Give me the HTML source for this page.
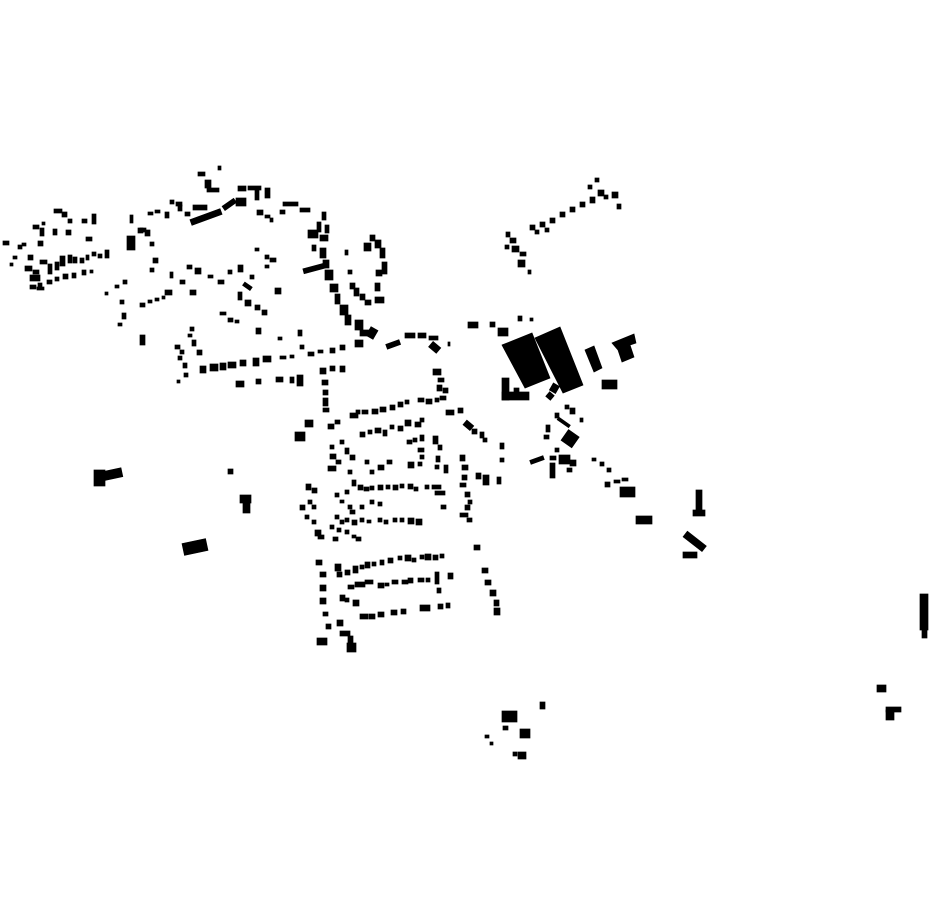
<!DOCTYPE html>
<html><head><meta charset="utf-8"><style>html,body{margin:0;padding:0;background:#fff}svg{display:block}</style></head><body>
<svg width="930" height="924" viewBox="0 0 930 924" xmlns="http://www.w3.org/2000/svg">
<rect width="930" height="924" fill="#fff"/>
<g fill="#000" stroke="#000" stroke-width="0.7" stroke-linejoin="miter">
<!-- NW cluster -->
<rect x="3" y="241" width="6" height="4"/><rect x="18" y="245" width="4" height="4"/><rect x="22" y="243" width="4" height="3"/><rect x="13" y="256" width="4" height="3"/><rect x="10" y="263" width="3" height="3"/><rect x="28" y="255" width="5" height="5"/><rect x="38" y="241" width="5" height="5"/><rect x="40" y="228" width="4" height="8"/><rect x="33" y="225" width="6" height="4"/><rect x="42" y="222" width="3" height="3"/><rect x="54" y="209" width="8" height="4"/><rect x="62" y="212" width="5" height="5"/><rect x="68" y="219" width="4" height="4"/><rect x="82" y="219" width="5" height="4"/><rect x="92" y="214" width="4" height="10"/><rect x="53" y="229" width="4" height="6"/><rect x="66" y="230" width="5" height="5"/><rect x="86" y="237" width="6" height="4"/><rect x="40" y="260" width="7" height="4"/><rect x="25" y="266" width="7" height="5"/><rect x="30" y="275" width="10" height="6"/><rect x="33" y="270" width="6" height="4"/><rect x="48" y="264" width="4" height="10"/><rect x="55" y="262" width="4" height="8"/><rect x="60" y="256" width="5" height="10"/><rect x="68" y="255" width="4" height="8"/><rect x="73" y="257" width="4" height="6"/><rect x="80" y="258" width="4" height="5"/><rect x="86" y="255" width="3" height="5"/><rect x="92" y="252" width="4" height="4"/><rect x="98" y="254" width="4" height="4"/><rect x="105" y="250" width="4" height="8"/><rect x="30" y="285" width="6" height="4"/><rect x="38" y="283" width="4" height="4"/><rect x="47" y="280" width="5" height="4"/><rect x="55" y="277" width="4" height="4"/><rect x="63" y="274" width="5" height="5"/><rect x="72" y="273" width="4" height="5"/><rect x="82" y="270" width="4" height="5"/><rect x="90" y="270" width="3" height="3"/><rect x="37" y="287" width="7" height="3"/>
<!-- north center -->
<rect x="198" y="172" width="7" height="4"/><rect x="205" y="180" width="6" height="8"/><rect x="207" y="188" width="12" height="4"/><rect x="218" y="166" width="3" height="4"/><rect x="238" y="186" width="8" height="5"/><rect x="248" y="186" width="13" height="4"/><rect x="255" y="190" width="4" height="10"/><rect x="265" y="188" width="5" height="10"/><rect x="236" y="198" width="10" height="8"/>
<rect x="190" y="214" width="32" height="6" transform="rotate(-20 206 217)"/><rect x="222" y="202" width="14" height="5" transform="rotate(-35 229 204)"/>
<rect x="193" y="205" width="14" height="5"/><rect x="178" y="205" width="4" height="6"/><rect x="185" y="212" width="5" height="4"/><rect x="170" y="200" width="4" height="4"/><rect x="165" y="212" width="4" height="6"/><rect x="176" y="202" width="6" height="4"/><rect x="130" y="215" width="3" height="8"/><rect x="148" y="212" width="5" height="3"/><rect x="155" y="210" width="5" height="3"/><rect x="140" y="228" width="6" height="4"/><rect x="145" y="230" width="5" height="6"/><rect x="127" y="236" width="8" height="14"/><rect x="150" y="242" width="4" height="4"/><rect x="138" y="228" width="5" height="5"/><rect x="153" y="258" width="5" height="5"/><rect x="150" y="268" width="4" height="4"/>
<rect x="257" y="210" width="6" height="5"/><rect x="265" y="215" width="5" height="3"/><rect x="270" y="218" width="3" height="4"/><rect x="280" y="210" width="5" height="4"/><rect x="283" y="202" width="15" height="4"/><rect x="300" y="208" width="10" height="4"/>
<rect x="322" y="212" width="4" height="8"/><rect x="317" y="222" width="4" height="10"/><rect x="308" y="230" width="10" height="8"/><rect x="325" y="225" width="4" height="8"/><rect x="320" y="235" width="8" height="6"/><rect x="312" y="245" width="4" height="6"/><rect x="320" y="248" width="6" height="10"/><rect x="323" y="260" width="6" height="8"/><rect x="303" y="266" width="22" height="5" transform="rotate(-15 314 268)"/><rect x="325" y="270" width="8" height="10"/><rect x="330" y="284" width="8" height="8"/><rect x="335" y="294" width="5" height="10"/><rect x="340" y="305" width="8" height="10"/><rect x="345" y="315" width="6" height="10"/><rect x="355" y="320" width="8" height="10"/><rect x="360" y="330" width="10" height="6"/><rect x="368" y="328" width="8" height="10" transform="rotate(30 372 333)"/>
<rect x="370" y="235" width="5" height="6"/><rect x="375" y="240" width="6" height="8"/><rect x="380" y="248" width="5" height="10"/><rect x="382" y="262" width="5" height="12"/><rect x="376" y="270" width="6" height="6"/><rect x="364" y="243" width="7" height="8"/><rect x="375" y="283" width="5" height="8"/><rect x="375" y="297" width="9" height="6"/><rect x="365" y="300" width="6" height="5"/><rect x="360" y="294" width="5" height="6"/><rect x="354" y="288" width="5" height="8"/><rect x="350" y="283" width="5" height="6"/><rect x="348" y="270" width="4" height="4"/><rect x="345" y="250" width="3" height="5"/>
<rect x="255" y="248" width="4" height="3"/><rect x="265" y="255" width="4" height="4"/><rect x="270" y="258" width="6" height="4"/><rect x="265" y="265" width="4" height="3"/><rect x="187" y="265" width="5" height="4"/><rect x="195" y="268" width="6" height="6"/><rect x="208" y="275" width="5" height="3"/><rect x="218" y="280" width="6" height="4"/><rect x="228" y="270" width="4" height="4"/><rect x="238" y="265" width="5" height="7"/><rect x="250" y="275" width="4" height="4"/><rect x="243" y="284" width="9" height="4" transform="rotate(35 247 286)"/><rect x="238" y="292" width="4" height="8"/><rect x="245" y="300" width="6" height="6"/><rect x="255" y="305" width="5" height="5"/><rect x="262" y="310" width="5" height="5"/><rect x="275" y="288" width="6" height="6"/><rect x="190" y="290" width="6" height="5"/><rect x="165" y="290" width="7" height="5"/><rect x="170" y="272" width="3" height="6"/><rect x="180" y="280" width="5" height="4"/><rect x="123" y="280" width="4" height="4"/><rect x="115" y="285" width="4" height="3"/><rect x="105" y="292" width="3" height="3"/><rect x="140" y="303" width="5" height="4"/><rect x="148" y="300" width="4" height="3"/><rect x="155" y="298" width="4" height="3"/><rect x="162" y="296" width="3" height="3"/><rect x="120" y="300" width="4" height="4"/><rect x="122" y="313" width="4" height="6"/><rect x="118" y="323" width="4" height="3"/><rect x="140" y="335" width="5" height="10"/><rect x="220" y="312" width="6" height="3"/><rect x="228" y="318" width="5" height="4"/><rect x="235" y="320" width="4" height="3"/><rect x="256" y="328" width="5" height="6"/><rect x="278" y="337" width="4" height="3"/><rect x="298" y="330" width="4" height="6"/><rect x="300" y="345" width="4" height="4"/>
<rect x="200" y="366" width="6" height="7"/><rect x="210" y="364" width="8" height="7"/><rect x="220" y="363" width="6" height="7"/><rect x="228" y="362" width="8" height="6"/><rect x="240" y="360" width="6" height="6"/><rect x="253" y="358" width="6" height="8"/><rect x="263" y="356" width="8" height="6"/><rect x="280" y="356" width="6" height="3"/><rect x="290" y="355" width="4" height="3"/><rect x="308" y="352" width="6" height="4"/><rect x="318" y="350" width="5" height="3"/><rect x="330" y="348" width="5" height="5"/><rect x="340" y="345" width="5" height="5"/><rect x="355" y="340" width="8" height="7"/><rect x="236" y="381" width="8" height="6"/><rect x="256" y="379" width="5" height="5"/><rect x="276" y="377" width="7" height="5"/><rect x="290" y="377" width="4" height="6"/><rect x="297" y="375" width="6" height="11"/><rect x="175" y="345" width="5" height="4"/><rect x="180" y="350" width="4" height="4"/><rect x="178" y="356" width="4" height="4"/><rect x="183" y="363" width="4" height="5"/><rect x="184" y="373" width="4" height="4"/><rect x="177" y="380" width="3" height="3"/><rect x="188" y="334" width="4" height="3"/><rect x="190" y="327" width="4" height="4"/><rect x="192" y="340" width="4" height="6"/><rect x="197" y="350" width="5" height="5"/>
<rect x="386" y="342" width="14" height="5" transform="rotate(-20 393 344)"/><rect x="405" y="333" width="10" height="5"/><rect x="418" y="333" width="8" height="5"/><rect x="429" y="336" width="9" height="4"/><rect x="430" y="344" width="10" height="7" transform="rotate(40 435 347)"/><rect x="448" y="342" width="2" height="4"/>
<!-- central-south -->
<rect x="320" y="368" width="6" height="6"/><rect x="330" y="366" width="5" height="5"/><rect x="340" y="366" width="5" height="6"/><rect x="322" y="380" width="6" height="5"/><rect x="323" y="390" width="5" height="5"/><rect x="323" y="398" width="5" height="8"/><rect x="323" y="408" width="6" height="4"/><rect x="295" y="432" width="10" height="9"/><rect x="305" y="420" width="8" height="7"/><rect x="328" y="424" width="6" height="5"/><rect x="335" y="420" width="5" height="4"/><rect x="350" y="413" width="8" height="5"/><rect x="356" y="410" width="4" height="4"/><rect x="362" y="410" width="6" height="4"/><rect x="372" y="409" width="6" height="5"/><rect x="380" y="407" width="6" height="5"/><rect x="390" y="405" width="5" height="5"/><rect x="398" y="402" width="5" height="5"/><rect x="405" y="400" width="4" height="4"/><rect x="418" y="398" width="6" height="4"/><rect x="426" y="399" width="6" height="5"/><rect x="435" y="398" width="4" height="4"/><rect x="433" y="369" width="8" height="6"/><rect x="438" y="378" width="6" height="4"/><rect x="437" y="385" width="5" height="6"/><rect x="443" y="388" width="5" height="5"/><rect x="440" y="396" width="6" height="4"/><rect x="446" y="410" width="8" height="5"/><rect x="458" y="408" width="5" height="5"/><rect x="464" y="422" width="9" height="6" transform="rotate(40 468 425)"/><rect x="472" y="429" width="5" height="5"/><rect x="480" y="432" width="4" height="6"/><rect x="483" y="438" width="4" height="4"/><rect x="500" y="443" width="4" height="6"/><rect x="500" y="458" width="4" height="4"/><rect x="483" y="475" width="6" height="10"/><rect x="497" y="477" width="4" height="7"/>
<rect x="340" y="440" width="4" height="4"/><rect x="330" y="445" width="4" height="4"/><rect x="330" y="454" width="6" height="5"/><rect x="336" y="460" width="5" height="4"/><rect x="328" y="466" width="8" height="5"/><rect x="345" y="448" width="4" height="6"/><rect x="350" y="455" width="5" height="5"/><rect x="348" y="470" width="4" height="4"/><rect x="360" y="432" width="5" height="5"/><rect x="368" y="430" width="4" height="4"/><rect x="375" y="428" width="6" height="5"/><rect x="383" y="430" width="4" height="6"/><rect x="390" y="425" width="4" height="4"/><rect x="398" y="426" width="5" height="5"/><rect x="405" y="420" width="6" height="6"/><rect x="415" y="422" width="6" height="5"/><rect x="420" y="418" width="4" height="4"/><rect x="407" y="440" width="5" height="4"/><rect x="413" y="438" width="4" height="4"/><rect x="420" y="435" width="4" height="6"/><rect x="418" y="448" width="6" height="4"/><rect x="420" y="455" width="4" height="4"/><rect x="418" y="462" width="4" height="4"/><rect x="408" y="462" width="6" height="6"/><rect x="387" y="460" width="5" height="4"/><rect x="378" y="465" width="6" height="5"/><rect x="365" y="460" width="4" height="4"/><rect x="370" y="470" width="4" height="4"/><rect x="433" y="436" width="5" height="8"/><rect x="438" y="445" width="4" height="5"/><rect x="436" y="456" width="4" height="6"/><rect x="435" y="465" width="4" height="4"/><rect x="444" y="465" width="4" height="8"/><rect x="460" y="455" width="5" height="6"/><rect x="462" y="465" width="6" height="5"/><rect x="462" y="475" width="5" height="5"/><rect x="460" y="483" width="6" height="4"/><rect x="465" y="492" width="5" height="5"/><rect x="468" y="500" width="4" height="4"/><rect x="465" y="505" width="5" height="5"/><rect x="460" y="513" width="8" height="4"/><rect x="467" y="518" width="5" height="4"/><rect x="476" y="473" width="5" height="6"/>
<rect x="335" y="493" width="4" height="4"/><rect x="345" y="490" width="4" height="4"/><rect x="352" y="480" width="4" height="6"/><rect x="358" y="485" width="5" height="5"/><rect x="364" y="487" width="5" height="4"/><rect x="370" y="486" width="4" height="4"/><rect x="378" y="485" width="5" height="5"/><rect x="386" y="485" width="4" height="4"/><rect x="393" y="485" width="5" height="5"/><rect x="400" y="484" width="4" height="4"/><rect x="408" y="484" width="5" height="5"/><rect x="414" y="487" width="4" height="4"/><rect x="425" y="485" width="4" height="4"/><rect x="432" y="485" width="9" height="4"/><rect x="435" y="491" width="10" height="4"/><rect x="441" y="505" width="5" height="4"/><rect x="306" y="484" width="5" height="6"/><rect x="312" y="488" width="5" height="5"/><rect x="300" y="505" width="5" height="5"/><rect x="308" y="500" width="4" height="4"/><rect x="312" y="505" width="4" height="4"/><rect x="305" y="515" width="4" height="4"/><rect x="312" y="520" width="4" height="4"/><rect x="315" y="530" width="6" height="6"/><rect x="335" y="515" width="4" height="4"/><rect x="340" y="520" width="4" height="4"/><rect x="345" y="518" width="4" height="4"/><rect x="352" y="520" width="5" height="5"/><rect x="360" y="518" width="4" height="4"/><rect x="367" y="520" width="4" height="3"/><rect x="378" y="518" width="4" height="4"/><rect x="384" y="520" width="4" height="4"/><rect x="393" y="518" width="4" height="4"/><rect x="400" y="518" width="4" height="4"/><rect x="408" y="518" width="6" height="6"/><rect x="416" y="519" width="6" height="6"/><rect x="330" y="525" width="4" height="4"/><rect x="337" y="528" width="4" height="4"/><rect x="345" y="530" width="4" height="4"/><rect x="352" y="535" width="4" height="3"/><rect x="356" y="537" width="5" height="4"/><rect x="333" y="537" width="5" height="4"/><rect x="318" y="535" width="6" height="4"/><rect x="340" y="500" width="4" height="3"/><rect x="348" y="505" width="4" height="4"/><rect x="360" y="505" width="4" height="4"/><rect x="370" y="500" width="4" height="4"/><rect x="378" y="502" width="4" height="4"/><rect x="350" y="510" width="5" height="4"/>
<!-- south rows -->
<rect x="316" y="560" width="6" height="5"/><rect x="320" y="572" width="6" height="5"/><rect x="320" y="585" width="6" height="6"/><rect x="320" y="598" width="6" height="6"/><rect x="323" y="612" width="5" height="4"/><rect x="335" y="564" width="6" height="7"/><rect x="337" y="572" width="5" height="5"/><rect x="345" y="570" width="5" height="5"/><rect x="353" y="566" width="5" height="7"/><rect x="360" y="565" width="4" height="4"/><rect x="365" y="562" width="5" height="6"/><rect x="372" y="562" width="4" height="4"/><rect x="380" y="560" width="4" height="5"/><rect x="388" y="558" width="5" height="5"/><rect x="398" y="556" width="4" height="4"/><rect x="405" y="555" width="6" height="6"/><rect x="412" y="558" width="4" height="4"/><rect x="420" y="555" width="4" height="4"/><rect x="425" y="554" width="6" height="6"/><rect x="433" y="555" width="5" height="5"/><rect x="440" y="554" width="4" height="4"/><rect x="348" y="585" width="6" height="4"/><rect x="355" y="582" width="10" height="5"/><rect x="365" y="580" width="8" height="4"/><rect x="378" y="583" width="6" height="5"/><rect x="385" y="583" width="4" height="3"/><rect x="392" y="580" width="6" height="4"/><rect x="402" y="580" width="6" height="4"/><rect x="408" y="578" width="5" height="5"/><rect x="418" y="578" width="6" height="4"/><rect x="426" y="578" width="4" height="4"/><rect x="435" y="572" width="4" height="12"/><rect x="437" y="588" width="4" height="5"/><rect x="448" y="573" width="5" height="6"/><rect x="340" y="595" width="5" height="6"/><rect x="345" y="598" width="4" height="4"/><rect x="353" y="600" width="6" height="6"/><rect x="360" y="614" width="8" height="5"/><rect x="369" y="614" width="6" height="5"/><rect x="378" y="612" width="6" height="5"/><rect x="391" y="610" width="6" height="5"/><rect x="401" y="609" width="5" height="5"/><rect x="420" y="605" width="10" height="6"/><rect x="438" y="604" width="5" height="5"/><rect x="446" y="603" width="4" height="5"/><rect x="326" y="624" width="5" height="5"/><rect x="337" y="620" width="6" height="6"/><rect x="317" y="638" width="10" height="7"/><rect x="340" y="631" width="10" height="5"/><rect x="348" y="636" width="5" height="10"/><rect x="347" y="643" width="9" height="9"/><rect x="474" y="545" width="6" height="5"/><rect x="482" y="568" width="6" height="5"/><rect x="485" y="580" width="6" height="5"/><rect x="490" y="590" width="6" height="6"/><rect x="494" y="600" width="5" height="6"/><rect x="494" y="608" width="6" height="7"/>
<!-- NE diagonal -->
<rect x="506" y="232" width="4" height="5"/><rect x="510" y="238" width="6" height="5"/><rect x="512" y="246" width="7" height="6"/><rect x="520" y="252" width="6" height="4"/><rect x="518" y="260" width="7" height="7"/><rect x="528" y="270" width="3" height="4"/><rect x="505" y="245" width="4" height="4"/><rect x="530" y="225" width="5" height="5"/><rect x="540" y="222" width="5" height="5"/><rect x="550" y="218" width="5" height="5"/><rect x="560" y="212" width="5" height="5"/><rect x="570" y="207" width="5" height="5"/><rect x="580" y="202" width="5" height="5"/><rect x="590" y="197" width="5" height="6"/><rect x="598" y="190" width="6" height="6"/><rect x="588" y="185" width="4" height="4"/><rect x="595" y="178" width="4" height="4"/><rect x="604" y="195" width="4" height="4"/><rect x="612" y="192" width="6" height="6"/><rect x="617" y="204" width="4" height="5"/><rect x="545" y="228" width="4" height="4"/><rect x="535" y="230" width="4" height="4"/>
<!-- industrial -->
<rect x="468" y="322" width="10" height="6"/><rect x="490" y="322" width="5" height="5"/><rect x="518" y="316" width="4" height="5"/><rect x="530" y="318" width="3" height="3"/><rect x="498" y="328" width="10" height="8"/>
<polygon points="502,345 532,333 550,378 525,388"/><polygon points="535,338 560,327 583,385 563,393"/><polygon points="585,350 594,346 602,368 594,372"/><polygon points="612,343 634,334 636,343 630,345 634,357 622,362 618,350"/>
<rect x="602" y="380" width="15" height="9"/><rect x="502" y="378" width="7" height="22"/><rect x="502" y="392" width="27" height="8"/><rect x="514" y="388" width="5" height="6"/>
<rect x="547" y="393" width="6" height="6" transform="rotate(40 550 396)"/><rect x="551" y="384" width="7" height="8" transform="rotate(30 554 388)"/><rect x="565" y="405" width="4" height="4"/><rect x="570" y="408" width="5" height="6"/><rect x="580" y="418" width="3" height="4"/><rect x="555" y="413" width="4" height="5"/><rect x="557" y="421" width="14" height="3" transform="rotate(35 564 422)"/><rect x="564" y="432" width="13" height="13" transform="rotate(35 570 438)"/><rect x="546" y="425" width="4" height="7"/><rect x="544" y="435" width="5" height="4"/><rect x="550" y="456" width="6" height="4"/><rect x="555" y="448" width="4" height="4"/><rect x="530" y="458" width="14" height="4" transform="rotate(-20 537 460)"/><rect x="550" y="463" width="5" height="15"/><rect x="559" y="455" width="11" height="9"/><rect x="570" y="460" width="6" height="6"/><rect x="567" y="468" width="5" height="4"/><rect x="592" y="458" width="4" height="3"/><rect x="600" y="462" width="4" height="4"/><rect x="607" y="468" width="4" height="4"/><rect x="605" y="482" width="5" height="5"/><rect x="614" y="480" width="6" height="3"/><rect x="622" y="478" width="6" height="3"/><rect x="620" y="487" width="15" height="10"/>
<rect x="636" y="516" width="16" height="8"/><rect x="696" y="490" width="6" height="20"/><rect x="693" y="510" width="12" height="6"/><rect x="683" y="538" width="24" height="7" transform="rotate(38 695 541)"/><rect x="683" y="552" width="14" height="6"/>
<rect x="920" y="594" width="8" height="36"/><rect x="922" y="628" width="5" height="10"/><rect x="877" y="685" width="9" height="7"/><rect x="886" y="710" width="8" height="10"/><rect x="886" y="707" width="15" height="5"/>
<rect x="502" y="711" width="15" height="11"/><rect x="503" y="726" width="5" height="4"/><rect x="520" y="729" width="10" height="9"/><rect x="540" y="702" width="5" height="7"/><rect x="485" y="735" width="4" height="3"/><rect x="490" y="742" width="3" height="3"/><rect x="513" y="752" width="4" height="4"/><rect x="518" y="752" width="8" height="7"/>
<rect x="94" y="470" width="11" height="16"/><rect x="100" y="470" width="22" height="9" transform="rotate(-12 111 474)"/><rect x="240" y="495" width="11" height="8"/><rect x="243" y="502" width="7" height="11"/><rect x="228" y="469" width="5" height="5"/><rect x="183" y="541" width="24" height="12" transform="rotate(-12 195 547)"/>
</g>
</svg>
</body></html>
